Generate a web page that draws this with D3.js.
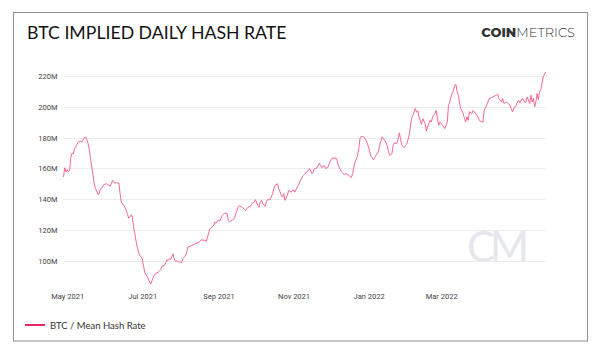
<!DOCTYPE html>
<html>
<head>
<meta charset="utf-8">
<script src="https://cdn.jsdelivr.net/npm/d3@7"></script>
<style>
  body { margin: 0; background: #fff; }
  svg { display: block; font-family: Lato, "Open Sans", sans-serif; }
  .axis path, .axis line { display: none; }
  .axis text { fill: #444; font-size: 7.5px; font-family: Roboto, sans-serif; }
</style>
</head>
<body>
<svg id="chart"></svg>
<script>
let width = 600, height = 354;

const yTicks = [100, 120, 140, 160, 180, 200, 220];
const xTicks = ["2021-05-01", "2021-07-01", "2021-09-01", "2021-11-01", "2022-01-01", "2022-03-01"];

const dates = [
  "2021-04-28","2021-04-29","2021-04-30","2021-05-01","2021-05-02","2021-05-03","2021-05-04","2021-05-05","2021-05-06","2021-05-07",
  "2021-05-09","2021-05-10","2021-05-12","2021-05-13","2021-05-14","2021-05-15","2021-05-16","2021-05-17","2021-05-18","2021-05-19",
  "2021-05-20","2021-05-21","2021-05-22","2021-05-23","2021-05-24","2021-05-25","2021-05-26","2021-05-27","2021-05-28","2021-05-29",
  "2021-05-30","2021-05-31","2021-06-01","2021-06-02","2021-06-03","2021-06-05","2021-06-06","2021-06-07","2021-06-08","2021-06-09",
  "2021-06-10","2021-06-12","2021-06-13","2021-06-14","2021-06-16","2021-06-17","2021-06-18","2021-06-19","2021-06-20","2021-06-21",
  "2021-06-22","2021-06-23","2021-06-24","2021-06-25","2021-06-26","2021-06-27","2021-06-28","2021-06-29","2021-07-01","2021-07-02",
  "2021-07-03","2021-07-04","2021-07-05","2021-07-06","2021-07-07","2021-07-08","2021-07-09","2021-07-10","2021-07-11","2021-07-13",
  "2021-07-14","2021-07-15","2021-07-16","2021-07-17","2021-07-18","2021-07-19","2021-07-20","2021-07-21","2021-07-22","2021-07-23",
  "2021-07-24","2021-07-25","2021-07-26","2021-07-27","2021-07-28","2021-07-29","2021-07-31","2021-08-01","2021-08-02","2021-08-03",
  "2021-08-05","2021-08-06","2021-08-07","2021-08-10","2021-08-13","2021-08-16","2021-08-18","2021-08-21","2021-08-22","2021-08-25",
  "2021-08-28","2021-08-29","2021-08-30","2021-09-01","2021-09-02","2021-09-04","2021-09-06","2021-09-08","2021-09-09","2021-09-10",
  "2021-09-12","2021-09-14","2021-09-16","2021-09-17","2021-09-18","2021-09-20","2021-09-21","2021-09-23","2021-09-24","2021-09-25",
  "2021-09-27","2021-09-28","2021-09-30","2021-10-01","2021-10-03","2021-10-04","2021-10-05","2021-10-06","2021-10-07","2021-10-09",
  "2021-10-10","2021-10-11","2021-10-13","2021-10-15","2021-10-16","2021-10-17","2021-10-19","2021-10-20","2021-10-22","2021-10-23",
  "2021-10-24","2021-10-25","2021-10-27","2021-10-28","2021-10-30","2021-11-01","2021-11-02","2021-11-04","2021-11-05","2021-11-06",
  "2021-11-08","2021-11-09","2021-11-11","2021-11-13","2021-11-14","2021-11-16","2021-11-17","2021-11-18","2021-11-20","2021-11-22",
  "2021-11-23","2021-11-24","2021-11-26","2021-11-27","2021-11-29","2021-11-30","2021-12-02","2021-12-04","2021-12-06","2021-12-07",
  "2021-12-09","2021-12-10","2021-12-12","2021-12-14","2021-12-16","2021-12-18","2021-12-19","2021-12-20","2021-12-21","2021-12-23",
  "2021-12-24","2021-12-25","2021-12-26","2021-12-28","2021-12-29","2021-12-30","2022-01-01","2022-01-02","2022-01-03","2022-01-05",
  "2022-01-06","2022-01-07","2022-01-09","2022-01-10","2022-01-11","2022-01-12","2022-01-14","2022-01-15","2022-01-16","2022-01-17",
  "2022-01-18","2022-01-20","2022-01-21","2022-01-22","2022-01-24","2022-01-25","2022-01-26","2022-01-27","2022-01-28","2022-01-30",
  "2022-01-31","2022-02-01","2022-02-03","2022-02-04","2022-02-05","2022-02-07","2022-02-08","2022-02-09","2022-02-10","2022-02-11",
  "2022-02-12","2022-02-13","2022-02-14","2022-02-16","2022-02-17","2022-02-18","2022-02-20","2022-02-21","2022-02-22","2022-02-24",
  "2022-02-25","2022-02-26","2022-02-27","2022-02-28","2022-03-02","2022-03-03","2022-03-04","2022-03-06","2022-03-07","2022-03-08",
  "2022-03-09","2022-03-11","2022-03-12","2022-03-13","2022-03-14","2022-03-15","2022-03-16","2022-03-17","2022-03-19","2022-03-20",
  "2022-03-21","2022-03-22","2022-03-23","2022-03-24","2022-03-26","2022-03-27","2022-03-28","2022-03-30","2022-03-31","2022-04-01",
  "2022-04-03","2022-04-04","2022-04-05","2022-04-07","2022-04-08","2022-04-09","2022-04-11","2022-04-12","2022-04-13","2022-04-15",
  "2022-04-16","2022-04-17","2022-04-19","2022-04-20","2022-04-21","2022-04-23","2022-04-24","2022-04-26","2022-04-27","2022-04-28",
  "2022-04-29","2022-05-01","2022-05-02","2022-05-03","2022-05-04","2022-05-06","2022-05-07","2022-05-08","2022-05-09","2022-05-10",
  "2022-05-12","2022-05-13","2022-05-14","2022-05-15","2022-05-16","2022-05-17","2022-05-18","2022-05-19","2022-05-20","2022-05-21",
  "2022-05-22","2022-05-23","2022-05-25"
];

// million TH/s
const hashRate = [
  154.4,160.5,157.7,159.2,157.7,158.8,167.4,170.0,169.6,172.9,
  175.7,177.2,177.7,177.2,178.8,180.1,180.5,178.8,176.2,171.8,
  166.4,160.9,155.5,150.1,146.8,145.3,143.1,143.6,146.8,147.2,
  148.5,149.6,149.8,150.1,149.4,148.5,150.5,152.2,150.9,150.5,
  150.7,150.5,143.6,138.1,136.0,134.5,132.7,130.1,127.7,128.3,
  129.9,128.3,121.8,117.5,112.7,108.8,105.5,103.4,101.6,96.9,
  92.5,91.0,89.9,88.2,86.0,84.9,87.1,89.2,91.0,92.1,
  92.5,93.2,94.3,96.4,96.9,96.9,98.6,100.6,100.1,101.2,
  100.8,102.7,104.5,101.2,99.7,100.1,99.0,99.4,98.6,101.5,
  103.0,104.9,108.8,109.9,111.0,112.0,113.6,113.2,112.5,120.8,
  122.9,125.1,124.4,126.6,125.7,129.4,130.9,130.5,126.2,125.5,
  126.2,127.9,132.7,134.8,135.9,134.8,134.2,132.7,133.8,134.8,
  135.5,137.1,138.1,139.7,135.9,134.8,138.1,139.2,137.1,135.3,
  138.6,139.7,139.7,143.6,146.8,149.0,150.1,146.8,142.5,141.4,
  143.6,139.2,142.5,145.7,144.6,146.2,144.6,147.9,149.0,151.2,
  154.4,155.5,157.0,158.8,159.9,156.6,157.7,159.9,160.3,163.5,
  162.0,160.5,162.0,159.9,160.9,163.1,166.4,166.8,166.4,163.1,
  159.2,157.7,156.2,156.6,155.5,154.0,156.6,160.9,164.2,167.9,
  172.9,179.4,180.9,180.5,179.4,178.3,174.0,170.7,167.9,165.7,
  167.0,168.5,170.7,175.0,177.8,180.5,178.3,177.2,175.0,171.8,
  168.5,169.6,175.0,176.6,176.2,179.4,183.1,179.4,175.0,173.5,
  175.0,175.7,181.6,187.0,192.4,196.8,199.0,196.5,197.5,193.5,
  191.3,188.7,192.4,189.2,184.4,187.0,191.3,190.2,193.5,195.7,
  197.8,192.4,188.1,190.2,188.1,187.0,185.9,190.2,201.1,203.2,
  206.5,210.9,214.1,214.6,209.8,207.6,202.2,198.9,195.7,192.4,
  190.2,193.5,191.3,196.8,195.7,197.8,196.8,194.6,193.5,191.3,
  190.2,190.2,197.8,201.1,203.2,205.5,206.1,206.5,207.0,207.6,
  208.3,205.5,203.2,205.5,202.2,203.2,202.6,201.1,198.9,196.8,
  198.9,201.1,203.2,204.3,202.6,205.5,204.3,202.9,203.2,206.5,
  202.2,207.6,203.2,205.5,200.0,203.2,208.7,204.8,209.8,211.3,
  215.2,219.6,222.8
];

const parse = d3.timeParse("%Y-%m-%d");
const data = dates.map((d, i) => ({date: parse(d), value: hashRate[i]}));

const svg = d3.select("#chart")
    .attr("width", width)
    .attr("height", height);

// frame
svg.append("rect")
    .attr("x", 13.5).attr("y", 12.5)
    .attr("width", 574).attr("height", 328.5)
    .attr("fill", "#fff")
    .attr("stroke", "#909096")
    .attr("stroke-width", 1);

svg.append("text")
    .attr("x", 27).attr("y", 38.5)
    .attr("font-size", "17.7px")
    .attr("fill", "#111")
    .text("BTC IMPLIED DAILY HASH RATE");

// logo
const logo = svg.append("text")
    .attr("x", 575).attr("y", 36.8)
    .attr("text-anchor", "end")
    .attr("font-size", "13px")
    .attr("fill", "#333")
    .attr("font-family", "Montserrat, 'Open Sans', sans-serif");
logo.append("tspan").attr("font-weight", 800).text("COIN");
logo.append("tspan").attr("font-weight", 300).text("METRICS");

const x = d3.scaleTime()
    .domain([parse("2021-04-28"), parse("2022-05-25")])
    .range([63.5, 545.7]);

const y = d3.scaleLinear()
    .domain([80, 230])
    .range([291.5, 60.8]);

// watermark
svg.append("text")
    .attr("x", 467).attr("y", 262)
    .attr("font-size", "42px")
    .attr("font-weight", 400)
    .attr("letter-spacing", "-5px")
    .attr("fill", "#e6e7ec")
    .text("CM");

// grid
svg.append("g")
    .selectAll("line")
    .data(yTicks)
    .enter()
    .append("line")
    .attr("x1", x.range()[0]).attr("x2", x.range()[1])
    .attr("y1", d => Math.round(y(d)) + 0.5)
    .attr("y2", d => Math.round(y(d)) + 0.5)
    .attr("stroke", "#ececec")
    .attr("stroke-width", 1);

svg.append("g")
    .attr("class", "axis")
    .attr("transform", "translate(" + x.range()[0] + ",0)")
    .call(d3.axisLeft(y).tickValues(yTicks).tickSize(0).tickPadding(6).tickFormat(d => d + "M"));

svg.append("g")
    .attr("class", "axis")
    .attr("transform", "translate(0,288)")
    .call(d3.axisBottom(x).tickValues(xTicks.map(parse)).tickSize(0).tickPadding(6).tickFormat(d3.timeFormat("%b %Y")));

const line = d3.line()
    .x(d => x(d.date))
    .y(d => y(d.value));

svg.append("path")
    .datum(data)
    .attr("d", line)
    .attr("fill", "none")
    .attr("stroke", "#f25884")
    .attr("stroke-width", 0.9)
    .attr("stroke-linejoin", "round");

// legend
svg.append("line")
    .attr("x1", 25).attr("x2", 45)
    .attr("y1", 325).attr("y2", 325)
    .attr("stroke", "#e8285e")
    .attr("stroke-width", 2);

svg.append("text")
    .attr("x", 50).attr("y", 328.5)
    .attr("font-size", "9.5px")
    .attr("fill", "#333")
    .text("BTC / Mean Hash Rate");
</script>
</body>
</html>
